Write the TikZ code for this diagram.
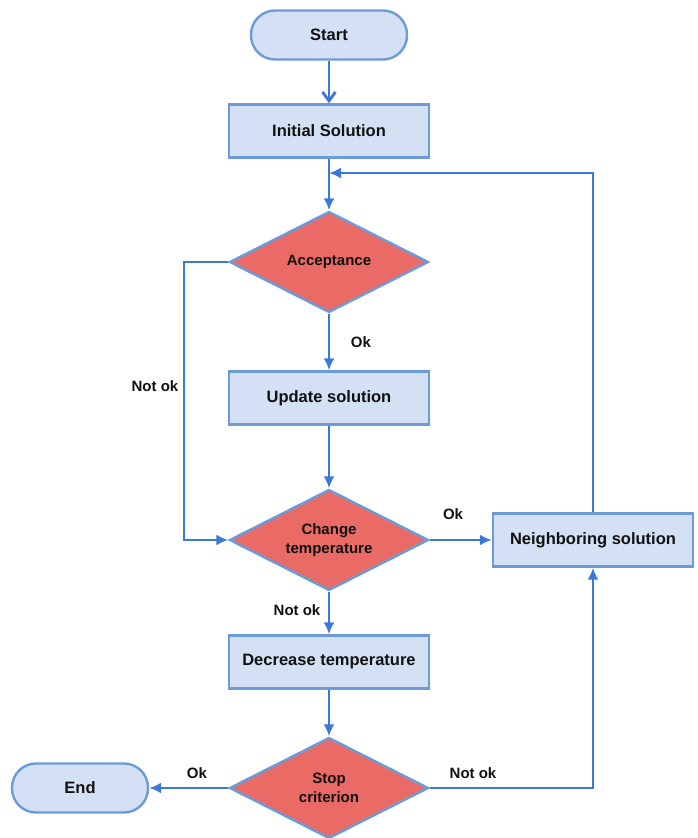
\documentclass[tikz,border=0pt]{standalone}
\usepackage{fontspec}
\setmainfont{Liberation Sans}
\usetikzlibrary{shapes.geometric,arrows.meta}
\definecolor{boxfill}{HTML}{D4E1F5}
\definecolor{boxline}{HTML}{6C9BDB}
\definecolor{arrowc}{HTML}{3C78D8}
\definecolor{decfill}{HTML}{EA6B66}
\definecolor{txt}{HTML}{111111}
\begin{document}
\begin{tikzpicture}[x=1pt,y=-1pt,
  every node/.style={text=txt,font=\bfseries},
  procbox/.style={rectangle,draw=boxline,fill=boxfill,line width=2.4pt,minimum width=200pt,minimum height=53pt,inner sep=0pt,font=\fontsize{16.5}{19}\bfseries},
  termbox/.style={rectangle,rounded corners=24pt,draw=boxline,fill=boxfill,line width=2.4pt,minimum height=49pt,inner sep=0pt,font=\fontsize{16.5}{19}\bfseries},
  decbox/.style={diamond,aspect=2,draw=boxline,fill=decfill,line width=2.4pt,minimum width=199pt,minimum height=101pt,inner sep=0pt,align=center,font=\fontsize{15}{18.5}\bfseries},
  conn/.style={draw=arrowc,line width=2.8pt,-{Latex[length=12pt,width=11pt]}},
  lab/.style={font=\fontsize{15}{18}\bfseries}]
\useasboundingbox (0,0) rectangle (698,838);
\node[termbox,minimum width=156pt] (start) at (329,35) {Start};
\node[procbox] (init) at (329,131) {Initial Solution};
\node[decbox] (acc) at (329,262) {Acceptance};
\node[procbox] (upd) at (329,398) {Update solution};
\node[decbox] (chg) at (329,540) {Change\\temperature};
\node[procbox] (nb) at (593,540) {Neighboring solution};
\node[procbox] (dec) at (329,662) {Decrease temperature};
\node[decbox] (stop) at (329,788) {Stop\\criterion};
\node[termbox,minimum width=136pt] (end) at (80,788) {End};
\coordinate (loop) at (329,173);
\coordinate (nl) at (184,262);

\draw[conn,-{Straight Barb[length=9pt,width=13pt]}] (start) -- (init);
\draw[conn] (init) -- (acc);
\draw[conn] (acc) -- (upd);
\draw[conn] (upd) -- (chg);
\draw[conn] (acc.west) -- (nl) |- (chg.west);
\draw[conn] (chg.east) -- (nb.west);
\draw[conn] (chg) -- (dec);
\draw[conn] (dec) -- (stop);
\draw[conn] (stop.west) -- (end.east);
\draw[conn] (stop.east) -| (nb.south);
\draw[conn] (nb.north) |- (loop);

\node[lab] (l1) at (361,342) {Ok};
\node[lab] (l2) at (155,386) {Not ok};
\node[lab] (l3) at (453,514) {Ok};
\node[lab] (l4) at (297,610) {Not ok};
\node[lab] (l5) at (197,773) {Ok};
\node[lab] (l6) at (473,773) {Not ok};
\end{tikzpicture}
\end{document}
